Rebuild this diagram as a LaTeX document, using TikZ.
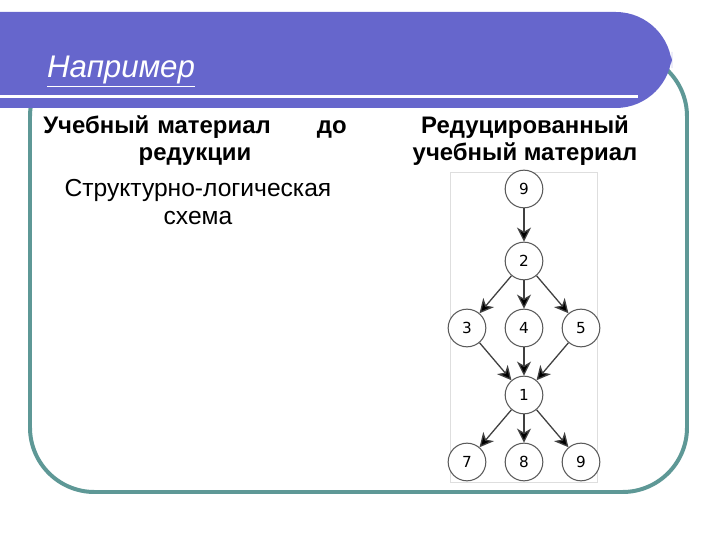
\documentclass[tikz,border=0pt]{standalone}
\usepackage{fontspec}
\setmainfont{Liberation Sans}
\newfontfamily\numfont{DejaVu Sans}
\usepackage{tikz}
\usetikzlibrary{arrows.meta}
\definecolor{titleblue}{RGB}{102,102,204}
\definecolor{frameteal}{RGB}{94,152,150}
\tikzset{
	vert/.style={circle, draw=black!65, line width=0.9pt, fill=white, minimum size=1.13cm, inner sep=0pt, font=\numfont\fontsize{13}{15}\selectfont},
	link/.style={draw=black!75, line width=1.1pt, -{Stealth[length=12pt, width=12pt, inset=3.5pt, fill=black]}},
	head/.style={font=\bfseries\fontsize{20.4}{23}\selectfont, align=center}
}

\begin{document}
\begin{tikzpicture}[x=0.03cm, y=-0.03cm]
			%%%%% START %%%%%
			\useasboundingbox (0, 0) rectangle (720, 540);
			
			\draw[line width=3.4pt, color=frameteal, rounded corners=55] (30, 52) rectangle (687, 492);
			\fill[titleblue, rounded corners=48] (-60, 12) rectangle (672, 108);
			\draw[line width=2.6pt, color=white] (-5, 96.5) -- (638, 96.5);
			
			\node[anchor=base west, text=white, font=\itshape\fontsize{26.7}{30}\selectfont] (title) at (43, 78) {\underline{Например}};
			
			\node[head, text width=9.1cm] (headleft) at (195, 141) {\makebox[\linewidth]{Учебный материал\hfill до}\\редукции};
			\node[head] (headright) at (525, 141) {Редуцированный\\учебный материал};
			\node[align=center, font=\fontsize{21}{24}\selectfont] (scheme) at (198, 202) {Структурно-логическая\\схема};
			
			\draw[color=black!13, line width=0.5pt] (450, 172) rectangle (597, 482);
			
			\node[vert] (n9) at (524, 189) {9};
			\node[vert] (n2) at (524, 261) {2};
			\node[vert] (n3) at (467, 328) {3};
			\node[vert] (n4) at (524, 328) {4};
			\node[vert] (n5) at (581, 328) {5};
			\node[vert] (n1) at (524, 395) {1};
			\node[vert] (n7) at (467, 462) {7};
			\node[vert] (n8) at (524, 462) {8};
			\node[vert] (n9b) at (581, 462) {9};
			
			\draw[link] (n9) -- (n2);
			\draw[link] (n2) -- (n3);
			\draw[link] (n2) -- (n4);
			\draw[link] (n2) -- (n5);
			\draw[link] (n3) -- (n1);
			\draw[link] (n4) -- (n1);
			\draw[link] (n5) -- (n1);
			\draw[link] (n1) -- (n7);
			\draw[link] (n1) -- (n8);
			\draw[link] (n1) -- (n9b);
			
			%%%%% END %%%%%
\end{tikzpicture}
\end{document}
